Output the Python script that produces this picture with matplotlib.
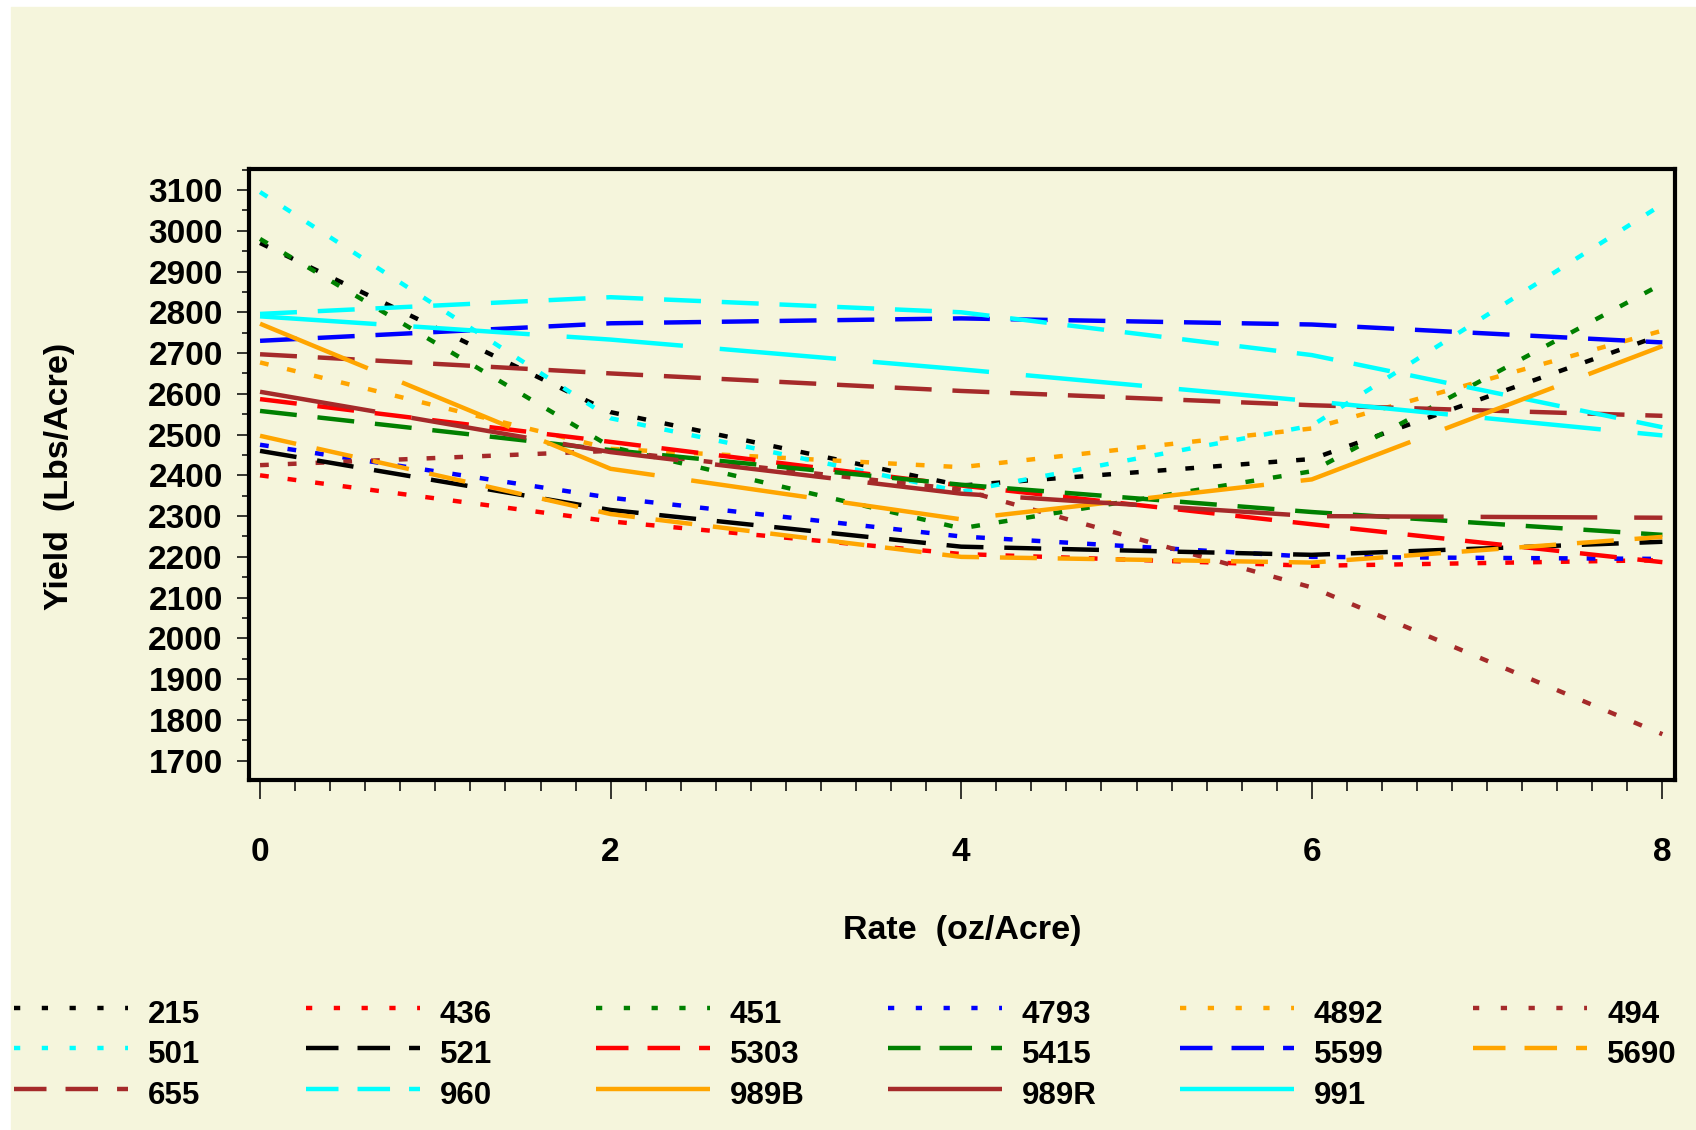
import matplotlib
matplotlib.use("Agg")
import matplotlib.pyplot as plt
from matplotlib.patches import Rectangle
from matplotlib.ticker import MultipleLocator

plt.rcParams['font.family'] = ['Liberation Sans', 'DejaVu Sans']
plt.rcParams['font.weight'] = 'bold'
plt.rcParams['lines.scale_dashes'] = False

W, H = 1696, 1130
BEIGE = "#F5F5DC"
BROWN = "#A52A2A"
ORANGE = "#FFA500"

# yield (lbs/acre) at each rate (oz/acre)
rates = [0, 2, 4, 6, 8]
v215 = [2970, 2555, 2375, 2440, 2745]
v436 = [2400, 2287, 2207, 2178, 2192]
v451 = [2980, 2470, 2270, 2410, 2870]
v4793 = [2475, 2345, 2250, 2200, 2195]
v4892 = [2677, 2465, 2420, 2515, 2755]
v494 = [2425, 2460, 2365, 2125, 1765]
v501 = [3095, 2540, 2360, 2522, 3065]
v521 = [2460, 2315, 2225, 2205, 2237]
v5303 = [2587, 2482, 2375, 2280, 2187]
v5415 = [2558, 2462, 2377, 2310, 2254]
v5599 = [2730, 2773, 2785, 2770, 2726]
v5690 = [2497, 2305, 2200, 2186, 2249]
v655 = [2697, 2650, 2607, 2572, 2546]
v960 = [2796, 2837, 2800, 2695, 2518]
v989B = [2772, 2416, 2292, 2390, 2717]
v989R = [2605, 2457, 2355, 2300, 2296]
v991 = [2790, 2733, 2660, 2582, 2498]

# legend order (row-wise, 6 columns)
series = [
    ("215", v215, "black", "dot"), ("436", v436, "red", "dot"),
    ("451", v451, "green", "dot"), ("4793", v4793, "blue", "dot"),
    ("4892", v4892, ORANGE, "dot"), ("494", v494, BROWN, "dot"),
    ("501", v501, "cyan", "dot"), ("521", v521, "black", "dash"),
    ("5303", v5303, "red", "dash"), ("5415", v5415, "green", "dash"),
    ("5599", v5599, "blue", "dash"), ("5690", v5690, ORANGE, "dash"),
    ("655", v655, BROWN, "dash"), ("960", v960, "cyan", "dash"),
    ("989B", v989B, ORANGE, "solid"), ("989R", v989R, BROWN, "solid"),
    ("991", v991, "cyan", "solid"),
]
plot_dash = {"dot": (6.3, 13.7), "dash": (26.6, 15.0), "solid": (84.0, 26.6)}
leg_dash = {"dot": (4.5, 15.5), "dash": (23.4, 13.7), "solid": None}
LW = 3.2

fig = plt.figure(figsize=(W / 100, H / 100), dpi=100, facecolor="white")
bg = fig.add_axes([0, 0, 1, 1])
bg.set_xlim(0, W); bg.set_ylim(H, 0); bg.axis("off")
bg.add_patch(Rectangle((11, 7), W - 11, H - 7, color=BEIGE, zorder=0))

L, R, T, B = 249, 1675, 169, 780
ax = fig.add_axes([L / W, 1 - B / H, (R - L) / W, (B - T) / H])
ax.set_facecolor(BEIGE)
for lab, vals, col, kind in series:
    ax.plot(rates, vals, color=col, lw=LW, dashes=plot_dash[kind], solid_capstyle="butt")
ax.set_xlim(-0.063, 8.072)
ax.set_ylim(1652.6, 3151.5)
ax.set_xticks(rates)
ax.xaxis.set_minor_locator(MultipleLocator(0.2))
ax.set_yticks(range(1700, 3101, 100))
ax.yaxis.set_minor_locator(MultipleLocator(50))
for s in ax.spines.values():
    s.set_linewidth(3.0)
ax.tick_params(axis="x", which="major", length=13.7, width=1.1, pad=27, labelsize=24)
ax.tick_params(axis="x", which="minor", length=8, width=1.1)
ax.tick_params(axis="y", which="major", length=8.9, width=1.1, pad=10, labelsize=24)
ax.tick_params(axis="y", which="minor", length=4.8, width=1.1)

bg.text(962.5, 930, "Rate  (oz/Acre)", ha="center", va="center", fontsize=24.5, weight="bold")
bg.text(59.5, 476, "Yield  (Lbs/Acre)", ha="center", va="center", rotation=90,
        fontsize=24.5, weight="bold")

# legend drawn by hand: 6 columns x 3 rows
col_x = [13.5, 306, 596, 888, 1180, 1473]
row_y = [1008, 1048, 1089]
for i, (lab, vals, col, kind) in enumerate(series):
    x0, y0 = col_x[i % 6], row_y[i // 6]
    kw = {} if leg_dash[kind] is None else {"dashes": leg_dash[kind]}
    bg.plot([x0, x0 + 114], [y0, y0], color=col, lw=LW, solid_capstyle="butt", **kw)
    bg.text(x0 + 134, y0 + 7, lab, ha="left", va="center", fontsize=22.5, weight="bold")

fig.savefig("out.png", dpi=100, facecolor="white")
